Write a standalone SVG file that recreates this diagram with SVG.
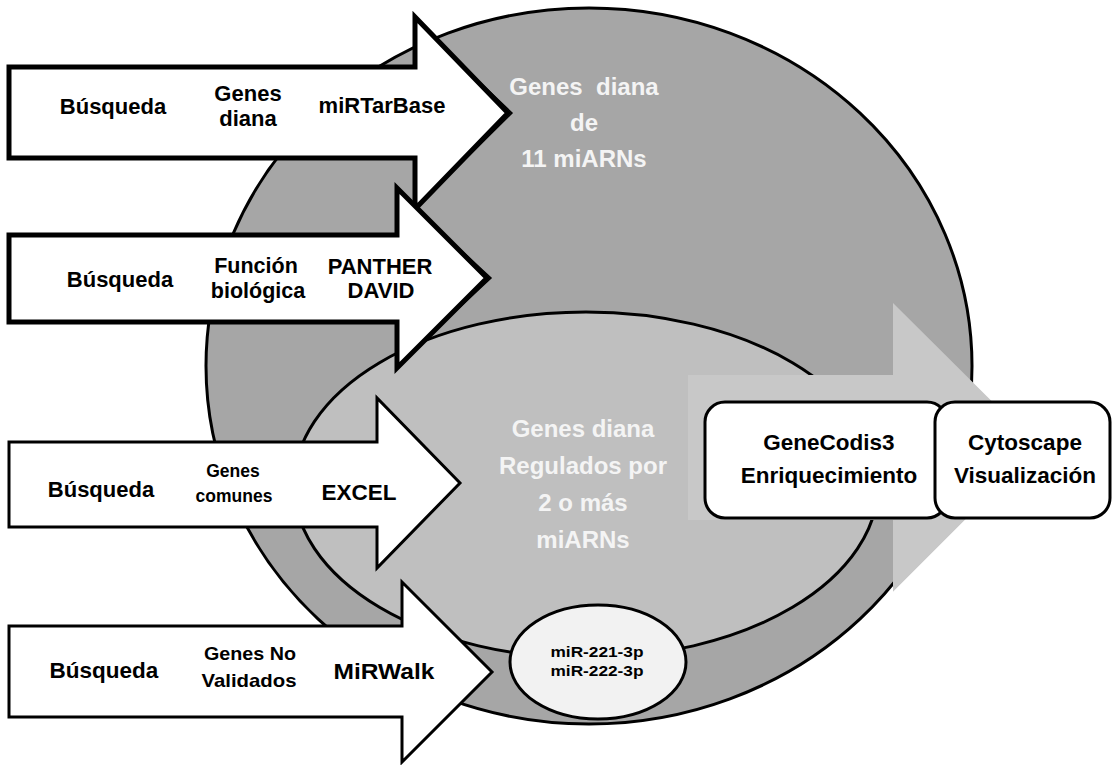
<svg xmlns="http://www.w3.org/2000/svg" width="1113" height="765" viewBox="0 0 1113 765">
<style>
.lbl{font-family:"Liberation Sans",Arial,sans-serif;font-weight:bold;fill:#000;text-anchor:middle}
.ctr{font-family:"Liberation Sans",Arial,sans-serif;font-weight:bold;fill:#f4f4f4;text-anchor:middle;font-size:24px}
.thick{fill:#fff;stroke:#000;stroke-width:5;stroke-linejoin:miter}
.thin{fill:#fff;stroke:#000;stroke-width:3;stroke-linejoin:miter}
.shadow{fill:none;stroke:#000;stroke-width:1.5}
.box{fill:#fff;stroke:#000;stroke-width:3}
</style>
<rect width="1113" height="765" fill="#fff"/>
<g id="outer-circle">
<ellipse cx="589" cy="366" rx="383" ry="358" fill="#a6a6a6" stroke="#000" stroke-width="3"/>
<text class="ctr" x="584" y="95">Genes&#160;&#160;diana</text>
<text class="ctr" x="584" y="131">de</text>
<text class="ctr" x="584" y="167">11 miARNs</text>
</g>
<g id="inner-ellipse">
<ellipse cx="586" cy="485" rx="292" ry="173" fill="#bfbfbf" stroke="#000" stroke-width="3"/>
<text class="ctr" x="583" y="437">Genes diana</text>
<text class="ctr" x="583" y="474">Regulados por</text>
<text class="ctr" x="583" y="511">2 o más</text>
<text class="ctr" x="583" y="548">miARNs</text>
</g>
<g id="mir-ellipse">
<ellipse cx="598" cy="662" rx="88" ry="57" fill="#f2f2f2" stroke="#000" stroke-width="3"/>
<text class="lbl" x="597" y="657" font-size="15" textLength="93" lengthAdjust="spacingAndGlyphs">miR-221-3p</text>
<text class="lbl" x="597" y="676" font-size="15" textLength="93" lengthAdjust="spacingAndGlyphs">miR-222-3p</text>
</g>
<g id="connectors">
<polygon points="688,375 893,375 893,303 1038,447 893,592 893,520 688,520" fill="#c8c8c8"/>
<polygon points="893,592 1040,445 1113,445 1113,765 893,765" fill="#fff"/>
</g>
<g id="genecodis">
<rect class="box" x="705" y="402" width="242" height="116" rx="20"/>
<text class="lbl" x="829" y="450" font-size="22.5">GeneCodis3</text>
<text class="lbl" x="829" y="483" font-size="22.5">Enriquecimiento</text>
</g>
<g id="cytoscape">
<rect class="box" x="935" y="402" width="175" height="116" rx="20"/>
<text class="lbl" x="1025" y="450" font-size="22.5">Cytoscape</text>
<text class="lbl" x="1025" y="483" font-size="22.5">Visualización</text>
</g>
<g id="arrow-mirtarbase">
<polyline class="shadow" points="419,24 512,113 419,205"/>
<polygon class="thick" points="9,67 415,67 415,17 508,113 415,209 415,158 9,158"/>
<text class="lbl" x="113" y="114" font-size="22">Búsqueda</text>
<text class="lbl" x="248" y="101" font-size="22">Genes</text>
<text class="lbl" x="248" y="126" font-size="22">diana</text>
<text class="lbl" x="382" y="113" font-size="22">miRTarBase</text>
</g>
<g id="arrow-panther">
<polyline class="shadow" points="401,195 491,278 401,362"/>
<polygon class="thick" points="9,235 397,235 397,188 487,278 397,368 397,322 9,322"/>
<text class="lbl" x="120" y="287" font-size="22">Búsqueda</text>
<text class="lbl" x="256" y="273" font-size="21.5">Función</text>
<text class="lbl" x="258" y="298" font-size="21.5">biológica</text>
<text class="lbl" x="380" y="274" font-size="22">PANTHER</text>
<text class="lbl" x="381" y="298" font-size="22">DAVID</text>
</g>
<g id="arrow-excel">
<polygon class="thin" points="9,442 377,442 377,398 460,483 377,568 377,527 9,527"/>
<text class="lbl" x="101" y="497" font-size="22">Búsqueda</text>
<text class="lbl" x="233" y="477" font-size="17.5">Genes</text>
<text class="lbl" x="234" y="502" font-size="17.5">comunes</text>
<text class="lbl" x="359" y="500" font-size="22.5">EXCEL</text>
</g>
<g id="arrow-mirwalk">
<polygon class="thin" points="9,626 402,626 402,582 492,672 402,762 402,717 9,717"/>
<text class="lbl" x="104" y="678" font-size="22.5">Búsqueda</text>
<text class="lbl" x="250" y="660" font-size="18.5" textLength="92" lengthAdjust="spacingAndGlyphs">Genes No</text>
<text class="lbl" x="249" y="687" font-size="18.5" textLength="95" lengthAdjust="spacingAndGlyphs">Validados</text>
<text class="lbl" x="384" y="679" font-size="22.5" textLength="101" lengthAdjust="spacingAndGlyphs">MiRWalk</text>
</g>
</svg>
